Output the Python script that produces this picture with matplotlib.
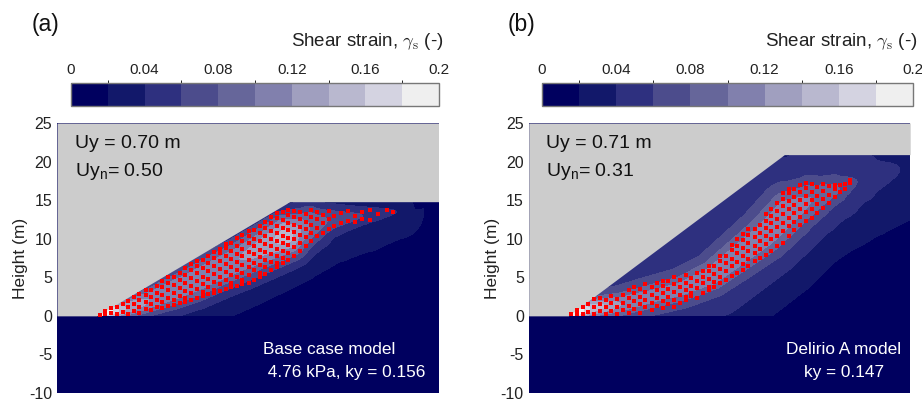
import numpy as np
import matplotlib
matplotlib.use("Agg")
import matplotlib.pyplot as plt
from matplotlib.colors import ListedColormap, BoundaryNorm
from matplotlib.cm import ScalarMappable

plt.rcParams['font.family'] = ['Liberation Sans', 'DejaVu Sans']
plt.rcParams['mathtext.fontset'] = 'custom'
plt.rcParams['mathtext.rm'] = 'Liberation Sans'
plt.rcParams['axes.unicode_minus'] = False

# ---- colour scale (shear strain) ----
levels = [0, 0.02, 0.04, 0.06, 0.08, 0.10, 0.12, 0.14, 0.16, 0.18, 0.20]
level_colors = ['#00005f', '#12186a', '#2e307f', '#4c4c8c', '#66669a',
                '#8180ad', '#a09fbf', '#b9b8cf', '#d4d3e1', '#efefef']
cbar_ticks = [0, 0.04, 0.08, 0.12, 0.16, 0.2]
cbar_ticklabels = ['0', '0.04', '0.08', '0.12', '0.16', '0.2']
sky = '#cccccc'

# ---- slope geometry (m) ----
slope_a = [(0, 0), (5.2, 0), (30.5, 14.8), (50, 14.8)]
slope_b = [(0, 0), (5.2, 0), (33.5, 20.9), (50, 20.9)]

# ---- shear band: centreline, half width, peak strain ----
band_a_x = [5.5, 9, 12, 15, 18, 21, 24, 27, 30, 33, 36, 40, 44.5]
band_a_y = [0.3, 1.0, 2.0, 3.2, 4.5, 6.0, 7.4, 8.9, 10.4, 11.9, 12.5, 13.0, 13.5]
band_a_w = [0.8, 1.3, 1.8, 2.2, 2.5, 2.7, 2.9, 3.0, 3.0, 2.6, 1.8, 1.2, 0.8]
band_a_pk = [0.18, 0.10, 0.08, 0.08, 0.08, 0.08, 0.08, 0.09, 0.11, 0.06, 0.04, 0.03, 0.015]
band_a_halo = [0.04, 0.04, 0.04, 0.04, 0.04, 0.04, 0.04, 0.04, 0.04, 0.04, 0.035, 0.03, 0.025]

band_b_x = [5.5, 8, 12, 16, 20, 24, 28, 31, 34, 37, 40, 43, 50]
band_b_y = [0.2, 1.0, 1.5, 2.5, 3.5, 5.2, 8.2, 10.5, 13.5, 15.2, 16.4, 17.5, 19.5]
band_b_w = [0.8, 1.1, 1.4, 1.6, 1.7, 1.9, 2.3, 2.6, 2.8, 2.4, 1.8, 1.2, 1.0]
band_b_pk = [0.16, 0.10, 0.06, 0.05, 0.05, 0.055, 0.055, 0.055, 0.055, 0.045, 0.035, 0.015, 0.0]
band_b_halo = [0.06, 0.06, 0.06, 0.06, 0.06, 0.06, 0.06, 0.06, 0.06, 0.055, 0.05, 0.045, 0.035]

# ---- material points (red dots), column x -> heights (m) ----
dots_a = {
    5.6: [0.15], 6.3: [0.2, 0.6], 7.1: [0.4, 1.0], 7.8: [0.2, 1.2], 8.6: [0.5, 1.5],
    9.3: [0.3, 1.1, 1.9], 10.1: [0.6, 1.5, 2.4], 10.8: [0.4, 1.2, 2.1, 2.8],
    11.6: [0.9, 1.8, 2.7, 3.3], 12.3: [0.8, 1.5, 2.4, 3.4], 13.1: [1.1, 2.0, 3.0, 3.9],
    13.8: [1.0, 1.8, 2.7, 3.7, 4.5], 14.6: [1.3, 2.3, 3.3, 4.3, 5.0],
    15.3: [1.4, 2.0, 3.0, 4.0, 5.1], 16.1: [1.7, 2.6, 3.6, 4.6, 5.6],
    16.8: [1.8, 2.3, 3.2, 4.2, 5.3, 6.2], 17.6: [2.1, 2.9, 3.9, 4.9, 5.9, 6.7],
    18.3: [2.3, 3.5, 4.5, 5.5, 6.5, 7.1], 19.1: [2.6, 3.1, 4.1, 5.1, 6.2, 7.2],
    19.8: [2.8, 3.8, 4.8, 5.8, 6.8, 7.8], 20.6: [3.0, 3.4, 4.4, 5.4, 6.4, 7.5, 8.3],
    21.3: [3.2, 4.1, 5.1, 6.1, 7.1, 8.1, 8.7], 22.1: [3.5, 4.7, 5.7, 6.7, 7.7, 8.8, 9.3],
    22.8: [3.7, 4.3, 5.3, 6.3, 7.4, 8.4, 9.5], 23.6: [3.9, 5.0, 6.0, 7.0, 8.0, 9.1, 10.1],
    24.3: [4.1, 4.6, 5.6, 6.6, 7.7, 8.7, 9.7, 10.5],
    25.1: [4.3, 5.3, 6.3, 7.3, 8.3, 9.4, 10.4, 11.0],
    25.8: [4.6, 5.9, 6.9, 8.0, 9.0, 10.0, 11.1],
    26.6: [5.0, 5.6, 6.6, 7.6, 8.6, 9.7, 10.7, 11.6],
    27.3: [5.4, 6.3, 7.3, 8.3, 9.3, 10.4, 11.4, 12.2],
    28.1: [5.9, 7.0, 8.0, 9.0, 10.0, 11.0, 12.0, 12.8],
    28.8: [6.3, 6.8, 7.7, 8.7, 9.7, 10.7, 11.7, 12.7, 13.3],
    29.6: [6.8, 7.5, 8.4, 9.4, 10.4, 11.4, 12.4, 13.4],
    30.3: [7.2, 8.2, 9.2, 10.1, 11.1, 12.1, 13.1, 13.7],
    31.1: [7.7, 8.9, 9.9, 10.9, 11.8, 12.8, 13.6],
    31.8: [8.4, 9.5, 10.5, 11.5, 12.5, 13.4], 32.6: [9.0, 10.2, 11.2, 12.2, 13.2],
    33.3: [9.7, 10.8, 11.8, 12.8, 13.7], 34.1: [10.3, 11.4, 12.5, 13.4],
    34.8: [10.8, 12.0, 13.1], 35.6: [11.2, 12.6, 13.6], 36.3: [11.7, 12.9],
    37.2: [12.1, 13.3], 38.1: [12.3, 13.6], 39.0: [12.2, 13.0], 40.0: [12.6, 13.5],
    41.0: [12.4, 13.7], 42.1: [13.2], 43.2: [13.7], 44.0: [13.4],
}

dots_b = {
    5.6: [0.2], 6.3: [0.3, 0.7], 7.1: [0.2, 1.1], 7.8: [0.5, 1.5], 8.6: [0.2, 1.1, 2.2],
    9.3: [0.6, 1.6, 2.3], 10.1: [0.3, 1.2, 2.1], 10.8: [0.6, 1.7, 2.6],
    11.6: [0.3, 1.2, 2.2], 12.3: [0.7, 1.7, 2.7], 13.1: [0.4, 1.3, 2.3, 3.4],
    13.8: [0.9, 1.9, 2.9, 3.8], 14.6: [0.4, 1.5, 2.5, 3.5], 15.3: [1.1, 2.1, 3.1, 4.1],
    16.1: [0.8, 1.7, 2.7, 3.7], 16.8: [1.3, 2.3, 3.3, 4.3], 17.6: [1.0, 1.9, 2.9, 3.9, 4.5],
    18.3: [1.5, 2.5, 3.5, 4.5], 19.1: [1.2, 2.1, 3.1, 4.1, 5.0], 19.8: [1.7, 2.7, 3.7, 4.7],
    20.6: [2.0, 2.4, 3.3, 4.3, 5.3], 21.3: [2.6, 3.0, 3.9, 4.9], 22.1: [2.3, 3.6, 4.5, 5.5],
    22.8: [2.9, 4.2, 5.1, 5.8], 23.6: [3.3, 3.8, 4.8, 5.8, 6.5], 24.3: [3.8, 4.4, 5.4, 6.4],
    25.1: [4.3, 5.1, 6.1, 7.1, 7.7], 25.8: [4.7, 5.8, 6.8, 7.8],
    26.6: [5.2, 6.4, 7.4, 8.5, 9.2], 27.3: [5.6, 7.0, 8.1, 9.1, 9.9],
    28.1: [6.0, 6.7, 7.7, 8.8, 9.8, 10.6], 28.8: [6.5, 7.4, 8.4, 9.5, 10.5, 11.2],
    29.6: [7.1, 8.1, 9.1, 10.2, 11.2], 30.3: [7.5, 8.7, 9.7, 10.8, 11.8],
    31.1: [7.9, 9.3, 10.4, 11.4, 12.3, 13.2], 31.8: [8.4, 9.9, 11.0, 12.0, 13.0, 13.9],
    32.6: [9.0, 10.4, 11.5, 12.6, 13.6, 14.6],
    33.3: [9.5, 11.0, 12.1, 13.2, 14.2, 15.2, 15.9],
    34.1: [10.3, 11.6, 12.7, 13.8, 14.9, 15.9, 16.5],
    34.8: [11.1, 12.2, 13.3, 14.4, 15.4, 16.4],
    35.6: [11.8, 12.8, 13.9, 15.0, 16.0, 17.0],
    36.3: [12.3, 13.4, 14.5, 15.6, 16.6, 17.2],
    37.1: [12.7, 13.9, 15.0, 16.1, 17.1], 37.8: [13.3, 14.5, 15.6, 16.7],
    38.6: [14.0, 15.1, 16.2, 17.1], 39.3: [14.6, 15.7, 16.8], 40.1: [15.4, 16.4, 17.0],
    40.8: [16.0, 16.9], 41.5: [16.5, 17.1], 42.1: [17.2, 17.6],
}

panels = [
    dict(tag='(a)', slope=slope_a, band=(band_a_x, band_a_y, band_a_w, band_a_pk, band_a_halo),
         halo_up=5.0, halo_down=7.5, dots=dots_a,
         uy='Uy = 0.70 m', uyn=r'Uy$_{\rm n}$= 0.50',
         model=['Base case model', ' 4.76 kPa, ky = 0.156'], model_ha='left', model_x=27.0),
    dict(tag='(b)', slope=slope_b, band=(band_b_x, band_b_y, band_b_w, band_b_pk, band_b_halo),
         halo_up=11.0, halo_down=8.5, dots=dots_b,
         uy='Uy = 0.71 m', uyn=r'Uy$_{\rm n}$= 0.31',
         model=['Delirio A model', 'ky = 0.147'], model_ha='center', model_x=41.3),
]


def band_strain(X, Y, bx, by, bw, bpk, bha, hu, hd):
    Z = np.zeros_like(X)
    for i in range(len(bx) - 1):
        x0, y0, x1, y1 = bx[i], by[i], bx[i + 1], by[i + 1]
        dx, dy = x1 - x0, y1 - y0
        t = np.clip(((X - x0) * dx + (Y - y0) * dy) / (dx * dx + dy * dy), 0, 1)
        d = np.hypot(X - (x0 + t * dx), Y - (y0 + t * dy))
        above = (dx * (Y - y0) - dy * (X - x0)) > 0
        w = bw[i] + t * (bw[i + 1] - bw[i])
        pk = bpk[i] + t * (bpk[i + 1] - bpk[i])
        ha = bha[i] + t * (bha[i + 1] - bha[i])
        h = np.where(above, hu, hd)
        Z = np.maximum(Z, pk * np.exp(-(d / w) ** 2) + ha * np.exp(-(d / h) ** 2))
    return Z


cmap = ListedColormap(level_colors)
norm = BoundaryNorm(levels, cmap.N)

fig = plt.figure(figsize=(9.22, 4.03), dpi=100)
W, H = 922.0, 403.0
ax_lefts = [57, 528.7]
cb_boxes = [(71, 439), (542, 913)]

for k, p in enumerate(panels):
    ax = fig.add_axes([ax_lefts[k] / W, 10 / H, 381.5 / W, 270 / H])
    ax.set_facecolor(level_colors[0])
    sx = [pt[0] for pt in p['slope']]
    sy = [pt[1] for pt in p['slope']]

    gx = np.linspace(0, 50, 501)
    gy = np.linspace(0, max(sy), 260)
    X, Y = np.meshgrid(gx, gy)
    bx, by, bw, bpk, bha = p['band']
    Z = band_strain(X, Y, bx, by, bw, bpk, bha, p['halo_up'], p['halo_down'])
    Z = np.clip(Z, 0, 0.1999)
    ax.contourf(X, Y, Z, levels=levels, colors=level_colors, zorder=1)

    ax.fill_between(sx, sy, 25, color=sky, lw=0, zorder=2)

    xs, ys = [], []
    for cx, col in p['dots'].items():
        for cy in col:
            xs.append(cx)
            ys.append(cy)
    ax.plot(xs, ys, 's', color='#ff0000', ms=2.3, mew=0, zorder=3)

    ax.set_xlim(0, 50)
    ax.set_ylim(-10, 25)
    ax.set_xticks([])
    ax.set_yticks([-10, -5, 0, 5, 10, 15, 20, 25])
    ax.tick_params(axis='y', length=0, pad=3.5, labelsize=11.5, labelcolor='#222222')
    for s in ax.spines.values():
        s.set_visible(False)
    ax.set_ylabel('Height (m)', fontsize=12.5, color='#222222', labelpad=0.5)

    ax.text(2.3, 22.4, p['uy'], fontsize=14, va='center', ha='left', color='#111111', zorder=4)
    ax.text(2.3, 18.7, p['uyn'], fontsize=14, va='center', ha='left', color='#111111', zorder=4)
    ax.text(p['model_x'], -4.3, p['model'][0], fontsize=12.4, va='center',
            ha=p['model_ha'], color='white', zorder=4)
    ax.text(p['model_x'], -7.3, p['model'][1], fontsize=12.4, va='center',
            ha=p['model_ha'], color='white', zorder=4)

    # colour bar above the panel
    c0, c1 = cb_boxes[k]
    cax = fig.add_axes([c0 / W, (H - 106) / H, (c1 - c0) / W, 23 / H])
    cb = fig.colorbar(ScalarMappable(norm=norm, cmap=cmap), cax=cax,
                      orientation='horizontal', ticks=cbar_ticks)
    cb.ax.set_xticklabels(cbar_ticklabels)
    cax.xaxis.set_ticks_position('top')
    cax.tick_params(length=0, pad=4, labelsize=11, labelcolor='#222222')
    cb.outline.set_edgecolor('#777777')
    cb.outline.set_linewidth(1.0)
    fig.text((c1 + 4) / W, 1 - 41 / H, r'Shear strain, $\gamma_{\rm s}$ (-)',
             ha='right', va='center', fontsize=13.5, color='#222222', math_fontfamily='cm')
    fig.text((ax_lefts[k] - 25 + 4 * k) / W, 1 - 24 / H, p['tag'],
             ha='left', va='center', fontsize=16.5, color='#111111')

fig.savefig('out.png', dpi=100)
